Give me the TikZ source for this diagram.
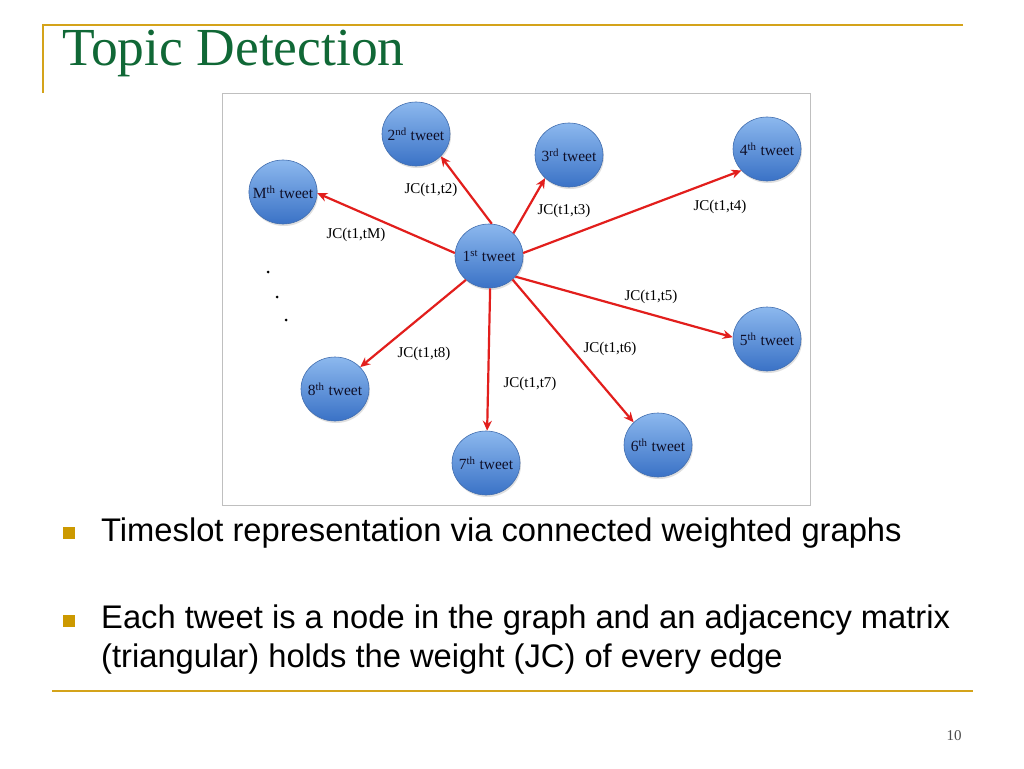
\documentclass[tikz,border=0pt]{standalone}
\usepackage{fontspec}
\setmainfont{Liberation Serif}
\newfontfamily\bodyfont{Liberation Sans}
\usetikzlibrary{shapes.geometric,arrows.meta,shadows}
\definecolor{gold}{RGB}{212,163,26}
\definecolor{bulletgold}{RGB}{204,153,0}
\definecolor{titlegreen}{RGB}{16,104,54}
\definecolor{edgered}{RGB}{226,30,28}
\definecolor{nodetop}{RGB}{140,184,238}
\definecolor{nodebot}{RGB}{58,114,198}
\definecolor{nodeborder}{RGB}{66,110,175}
\definecolor{nodetext}{RGB}{15,15,40}
\tikzset{
  tweet/.style={ellipse, minimum width=68pt, minimum height=64pt, inner xsep=-6pt, inner ysep=0pt,
    top color=nodetop, bottom color=nodebot, draw=nodeborder, line width=0.6pt,
    drop shadow={opacity=0.25, shadow xshift=1pt, shadow yshift=-2pt},
    text=nodetext, font=\fontsize{15.5}{16}\selectfont},
  edge/.style={draw=edgered, line width=2.2pt, -{Stealth[length=10pt,width=9pt]}},
  jc/.style={font=\fontsize{15}{16}\selectfont, text=black, inner sep=1pt},
  bodytext/.style={anchor=base west, inner sep=0pt, font=\bodyfont\fontsize{32.7}{38}\selectfont},
  bulletsq/.style={fill=bulletgold, draw=none},
  goldline/.style={draw=gold, line width=2pt},
  dotmark/.style={circle, fill=black, inner sep=0pt, minimum size=3pt}
}
\begin{document}
\begin{tikzpicture}[x=1pt,y=-1pt]
\useasboundingbox (0,0) rectangle (1024,768);
\fill[white] (0,0) rectangle (1024,768);
% slide frame lines
\coordinate (tl) at (43,25);
\coordinate (tr) at (963,25);
\coordinate (lb) at (43,93);
\coordinate (bl) at (52,691);
\coordinate (br) at (973,691);
\draw[goldline] (tr) -- (tl) -- (lb);
\draw[goldline] (bl) -- (br);
% title
\node[anchor=base west, inner sep=0pt, text=titlegreen, font=\fontsize{53.5}{56}\selectfont] (title) at (62,65) {Topic Detection};
% graph frame
\draw[draw=black!25, line width=0.8pt] (222,93) rectangle (810,505);
% nodes
\node[tweet] (t1) at (489,256) {1\textsuperscript{st} tweet};
\node[tweet] (t2) at (416,134) {2\textsuperscript{nd} tweet};
\node[tweet] (t3) at (569,155) {3\textsuperscript{rd} tweet};
\node[tweet] (t4) at (767,149) {4\textsuperscript{th} tweet};
\node[tweet] (t5) at (767,339) {5\textsuperscript{th} tweet};
\node[tweet] (t6) at (658,445) {6\textsuperscript{th} tweet};
\node[tweet] (t7) at (486,463) {7\textsuperscript{th} tweet};
\node[tweet] (t8) at (335,389) {8\textsuperscript{th} tweet};
\node[tweet] (tM) at (283,192) {M\textsuperscript{th} tweet};
% edges
\draw[edge] (t1.85) -- (t2.-42);
\draw[edge] (t1.43) -- (t3.-136);
\draw[edge] (t1.5) -- (t4.-140);
\draw[edge] (t1.-38) -- (t5.177);
\draw[edge] (t1.-45) -- (t6.137);
\draw[edge] (t1.-88) -- (t7.88);
\draw[edge] (t1.-134) -- (t8.41);
\draw[edge] (t1.175) -- (tM.-2);
% edge labels
\node[jc] (l2) at (431,190) {JC(t1,t2)};
\node[jc] (l3) at (564,211) {JC(t1,t3)};
\node[jc] (l4) at (720,207) {JC(t1,t4)};
\node[jc] (l5) at (651,297) {JC(t1,t5)};
\node[jc] (l6) at (610,349) {JC(t1,t6)};
\node[jc] (l7) at (530,384) {JC(t1,t7)};
\node[jc] (l8) at (424,354) {JC(t1,t8)};
\node[jc] (lM) at (356,235) {JC(t1,tM)};
% dots
\node[dotmark] (d1) at (268,272) {};
\node[dotmark] (d2) at (277,297) {};
\node[dotmark] (d3) at (286,320) {};
% bullets
\fill[bulletsq] (63,527) rectangle (75,539);
\fill[bulletsq] (63,615) rectangle (75,627);
\node[bodytext] (b1) at (101,541) {Timeslot representation via connected weighted graphs};
\node[bodytext] (b2) at (101,628) {Each tweet is a node in the graph and an adjacency matrix};
\node[bodytext] (b3) at (101,667) {(triangular) holds the weight (JC) of every edge};
% page number
\node[font=\fontsize{15}{16}\selectfont, text=black!70] (pg) at (954,736) {10};
\end{tikzpicture}
\end{document}
